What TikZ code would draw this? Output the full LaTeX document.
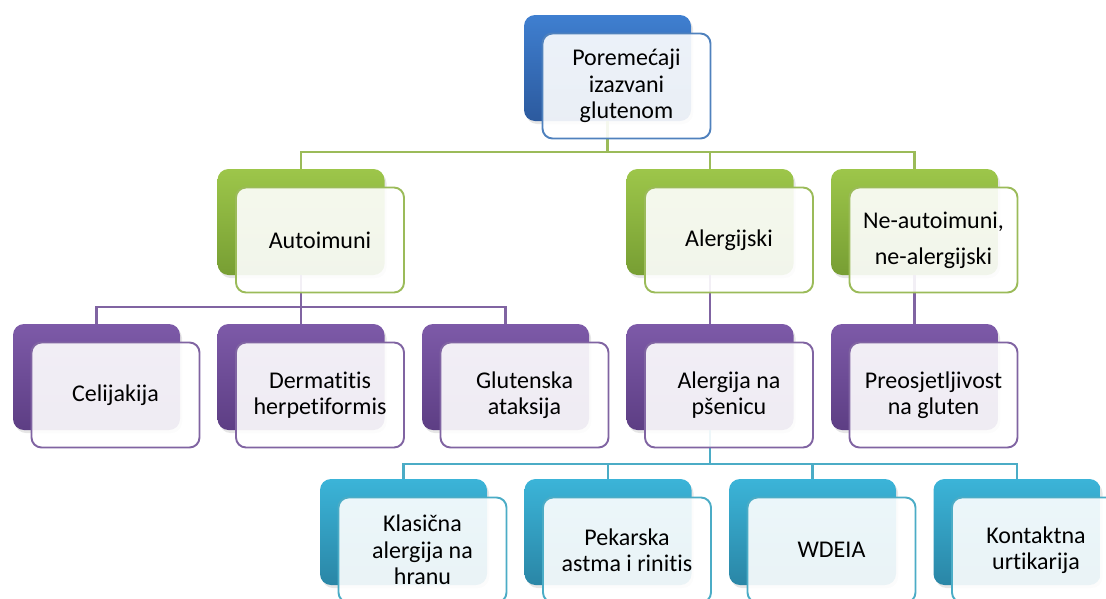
\documentclass[tikz,border=0pt]{standalone}
\usepackage{fontspec}
\setmainfont{Carlito}[Ligatures={NoCommon}]
\usetikzlibrary{shadows}
\definecolor{blueT}{HTML}{3F7FD0}
\definecolor{blueB}{HTML}{2C5A9E}
\definecolor{blueL}{HTML}{4F81BD}
\definecolor{greenT}{HTML}{9DC64A}
\definecolor{greenB}{HTML}{779E33}
\definecolor{greenL}{HTML}{9BBB59}
\definecolor{purpT}{HTML}{7D5AA8}
\definecolor{purpB}{HTML}{5D3E84}
\definecolor{purpL}{HTML}{8064A2}
\definecolor{cyanT}{HTML}{3BB4D8}
\definecolor{cyanB}{HTML}{2A86A6}
\definecolor{cyanL}{HTML}{4BACC6}
\tikzset{
  backbox/.style={rounded corners=11pt, minimum width=167pt, minimum height=106pt,
    inner sep=0pt, draw=none,
    drop shadow={opacity=0.2, shadow xshift=2pt, shadow yshift=-3pt}},
  frontbox/.style={rounded corners=10pt, minimum width=168pt, minimum height=105pt,
    inner sep=2pt, fill=white, fill opacity=0.9, text opacity=1, line width=1.9pt,
    align=center, text=black, font=\fontsize{24}{26.5}\selectfont},
  bback/.style={backbox, top color=blueT, bottom color=blueB},
  gback/.style={backbox, top color=greenT, bottom color=greenB},
  pback/.style={backbox, top color=purpT, bottom color=purpB},
  cback/.style={backbox, top color=cyanT, bottom color=cyanB},
  bfront/.style={frontbox, draw=blueL},
  gfront/.style={frontbox, draw=greenL},
  pfront/.style={frontbox, draw=purpL},
  cfront/.style={frontbox, draw=cyanL},
  gline/.style={draw=greenL, line width=2.3pt},
  pline/.style={draw=purpL, line width=2.3pt},
  cline/.style={draw=cyanL, line width=2.3pt},
}
\begin{document}
\begin{tikzpicture}[x=1pt, y=-1pt]
\useasboundingbox (0,0) rectangle (1106,598);
% junction coordinates
\coordinate (j0) at (607.5,152);
\coordinate (j1) at (301,307);
\coordinate (j2) at (710,464);
% back boxes
\node[bback] (b0) at (607.5,68) {};
\node[gback] (g1) at (301,222) {};
\node[gback] (g2) at (710,222) {};
\node[gback] (g3) at (914.5,222) {};
\node[pback] (p1) at (96.5,377) {};
\node[pback] (p2) at (301,377) {};
\node[pback] (p3) at (505.5,377) {};
\node[pback] (p4) at (710,377) {};
\node[pback] (p5) at (914.5,377) {};
\node[cback] (c1) at (403.5,532) {};
\node[cback] (c2) at (608,532) {};
\node[cback] (c3) at (812.5,532) {};
\node[cback] (c4) at (1017,532) {};
% connectors
\draw[gline] (b0.south) -- (j0);
\draw[gline] (j0) -| (g1.north);
\draw[gline] (j0) -| (g2.north);
\draw[gline] (j0) -| (g3.north);
\draw[pline] (g1.south) -- (j1);
\draw[pline] (j1) -| (p1.north);
\draw[pline] (j1) -| (p2.north);
\draw[pline] (j1) -| (p3.north);
\draw[pline] (g2.south) -- (p4.north);
\draw[pline] (g3.south) -- (p5.north);
\draw[cline] (p4.south) -- (j2);
\draw[cline] (j2) -| (c1.north);
\draw[cline] (j2) -| (c2.north);
\draw[cline] (j2) -| (c3.north);
\draw[cline] (j2) -| (c4.north);
% front boxes with text
\node[bfront] (fb0) at (626.5,86) {Poremećaji\\izazvani\\glutenom};
\node[gfront] (fg1) at (320,240) {Autoimuni};
\node[gfront] (fg2) at (729,240) {Alergijski};
\node[gfront] (fg3) at (933.5,240) {Ne-autoimuni,\\[9.5pt]ne-alergijski};
\node[pfront] (fp1) at (115.5,395) {Celijakija};
\node[pfront] (fp2) at (320,395) {Dermatitis\\herpetiformis};
\node[pfront] (fp3) at (524.5,395) {Glutenska\\ataksija};
\node[pfront] (fp4) at (729,395) {Alergija na\\pšenicu};
\node[pfront] (fp5) at (933.5,395) {Preosjetljivost\\na gluten};
\node[cfront] (fc1) at (422.5,550) {Klasična\\alergija na\\hranu};
\node[cfront] (fc2) at (627,550) {Pekarska\\astma i rinitis};
\node[cfront] (fc3) at (831.5,550) {WDEIA};
\node[cfront] (fc4) at (1036,550) {Kontaktna\\urtikarija};
\end{tikzpicture}
\end{document}
